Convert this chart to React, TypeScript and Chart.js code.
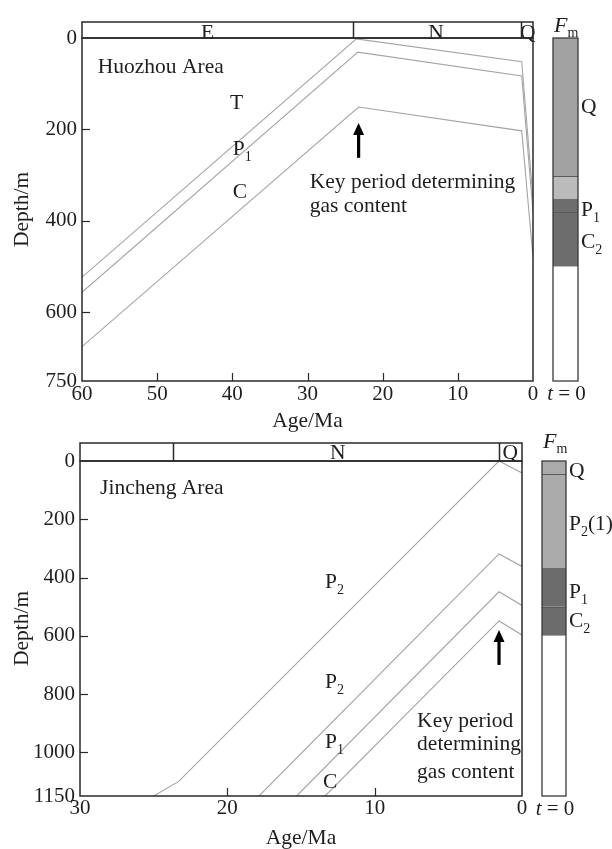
import React, { useEffect, useRef } from 'react';
import { Chart, registerables } from 'chart.js';

Chart.register(...registerables);

const SERIF = '"Liberation Serif", "Times New Roman", Times, serif';
const INK = '#1e1e1e';
const LINE_GREY = '#a4a4a4';
const TICK_SIZE = 21;
const TITLE_SIZE = 21.5;
const NOTE_SIZE = 21.5;

// ---------------- Top panel: Huozhou Area ----------------
const huoAgeTicks = [60, 50, 40, 30, 20, 10, 0];
const huoDepthTicks = [0, 200, 400, 600, 750];

const huoT_ages = [60, 23.5, 1.5, 0];
const huoT_depths = [523, 2, 52, 352];
const huoP1_ages = [60, 23.3, 1.5, 0];
const huoP1_depths = [556, 31, 83, 381];
const huoC_ages = [60, 23.2, 1.5, 0];
const huoC_depths = [675, 151, 203, 480];

const huoPeriodBounds = [60, 24, 1.6, 0];
const huoPeriodNames = ['E', 'N', 'Q'];
const huoPeriodLabelAges = [43.3, 12.9, 0.7];

const huoColumnBounds = [0, 302, 352, 381, 500, 750];
const huoColumnFills = ['#a2a2a2', '#bbbbbb', '#6d6d6d', '#6d6d6d', '#ffffff'];
const huoColumnLineDepths = [302, 381];
const huoColumnLabels = ['Q', 'P_1', 'C_2'];
const huoColumnLabelDepths = [164, 390, 459];

const huoNoteTexts = ['Huozhou Area', 'T', 'P_1', 'C', 'Key period determining', 'gas content'];
const huoNoteAges = [57.9, 40.3, 39.95, 39.95, 29.7, 29.7];
const huoNoteDepths = [76, 155, 256, 350, 328, 380];
const huoArrowAge = 23.2;
const huoArrowDepths = [262, 186]; // tail, tip

// ---------------- Bottom panel: Jincheng Area ----------------
const jinAgeTicks = [30, 20, 10, 0];
const jinDepthTicks = [0, 200, 400, 600, 800, 1000, 1150];

const jinL1_ages = [25.0, 23.3, 1.56, 0];
const jinL1_depths = [1150, 1100, 0, 41];
const jinL2_ages = [17.85, 1.56, 0];
const jinL2_depths = [1150, 319, 362];
const jinL3_ages = [15.3, 1.56, 0];
const jinL3_depths = [1150, 449, 496];
const jinL4_ages = [13.37, 1.56, 0];
const jinL4_depths = [1150, 549, 597];

const jinPeriodBounds = [30, 23.7, 1.56, 0];
const jinPeriodNames = ['', 'N', 'Q'];
const jinPeriodLabelAges = [26.9, 12.5, 0.8];

const jinColumnBounds = [0, 45, 367, 500, 600, 1150];
const jinColumnFills = ['#ababab', '#ababab', '#6c6c6c', '#6c6c6c', '#ffffff'];
const jinColumnLineDepths = [45, 500];
const jinColumnLabels = ['Q', 'P_2(1)', 'P_1', 'C_2'];
const jinColumnLabelDepths = [55, 237, 470, 570];

const jinNoteTexts = ['Jincheng Area', 'P_2', 'P_2', 'P_1', 'C', 'Key period', 'determining', 'gas content'];
const jinNoteAges = [28.64, 13.37, 13.37, 13.37, 13.5, 7.12, 7.12, 7.12];
const jinNoteDepths = [113, 436, 779, 985, 1122, 912, 991, 1087];
const jinArrowAge = 1.56;
const jinArrowDepths = [700, 580];

// ---------------- panel definitions ----------------
const panels = [
  {
    id: 'huo',
    top: 0,
    canvasH: 440,
    padTop: 38,
    padRight: 79,
    yWidth: 82,
    xHeight: 59,
    xTickPad: 1,
    xTitlePad: 6,
    headerH: 16,
    headerBaseline: 1,
    colOffset: 20,
    colWidth: 25,
    fmBaseline: -6,
    ageMax: 60,
    depthMax: 750,
    ageTicks: huoAgeTicks,
    depthTicks: huoDepthTicks,
    series: [
      { ages: huoT_ages, depths: huoT_depths },
      { ages: huoP1_ages, depths: huoP1_depths },
      { ages: huoC_ages, depths: huoC_depths },
    ],
    periodBounds: huoPeriodBounds,
    periodNames: huoPeriodNames,
    periodLabelAges: huoPeriodLabelAges,
    colBounds: huoColumnBounds,
    colFills: huoColumnFills,
    colLines: huoColumnLineDepths,
    colLabels: huoColumnLabels,
    colLabelDepths: huoColumnLabelDepths,
    notes: huoNoteTexts,
    noteAges: huoNoteAges,
    noteDepths: huoNoteDepths,
    arrowAge: huoArrowAge,
    arrowDepths: huoArrowDepths,
  },
  {
    id: 'jin',
    top: 420,
    canvasH: 431,
    padTop: 41,
    padRight: 90,
    yWidth: 80,
    xHeight: 55,
    xTickPad: 0,
    xTitlePad: 0,
    headerH: 18,
    headerBaseline: -2,
    colOffset: 20,
    colWidth: 24,
    fmBaseline: -13,
    ageMax: 30,
    depthMax: 1150,
    ageTicks: jinAgeTicks,
    depthTicks: jinDepthTicks,
    series: [
      { ages: jinL1_ages, depths: jinL1_depths },
      { ages: jinL2_ages, depths: jinL2_depths },
      { ages: jinL3_ages, depths: jinL3_depths },
      { ages: jinL4_ages, depths: jinL4_depths },
    ],
    periodBounds: jinPeriodBounds,
    periodNames: jinPeriodNames,
    periodLabelAges: jinPeriodLabelAges,
    colBounds: jinColumnBounds,
    colFills: jinColumnFills,
    colLines: jinColumnLineDepths,
    colLabels: jinColumnLabels,
    colLabelDepths: jinColumnLabelDepths,
    notes: jinNoteTexts,
    noteAges: jinNoteAges,
    noteDepths: jinNoteDepths,
    arrowAge: jinArrowAge,
    arrowDepths: jinArrowDepths,
  },
];

// draw text where "_x" means subscript x
function drawRich(ctx: CanvasRenderingContext2D, x: number, y: number, text: string, size: number) {
  const runs: { t: string; sub: boolean }[] = [];
  for (let i = 0; i < text.length; i++) {
    if (text[i] === '_' && i + 1 < text.length) {
      runs.push({ t: text[i + 1], sub: true });
      i++;
    } else {
      const last = runs[runs.length - 1];
      if (last && !last.sub) last.t += text[i];
      else runs.push({ t: text[i], sub: false });
    }
  }
  let cx = x;
  ctx.textAlign = 'left';
  ctx.textBaseline = 'alphabetic';
  for (const r of runs) {
    if (r.sub) {
      ctx.font = `${Math.round(size * 0.66)}px ${SERIF}`;
      ctx.fillText(r.t, cx, y + size * 0.27);
    } else {
      ctx.font = `${size}px ${SERIF}`;
      ctx.fillText(r.t, cx, y);
    }
    cx += ctx.measureText(r.t).width;
  }
}

function makePlugin(p: any) {
  return {
    id: 'panelDecor_' + p.id,
    afterDraw(chart: any) {
      const { ctx, chartArea: ca } = chart;
      const xs = chart.scales.x;
      const ys = chart.scales.y;
      ctx.save();
      ctx.fillStyle = INK;
      ctx.strokeStyle = '#2a2a2a';

      // period header labels
      ctx.font = `${NOTE_SIZE}px ${SERIF}`;
      ctx.textAlign = 'center';
      ctx.textBaseline = 'alphabetic';
      p.periodNames.forEach((n: string, i: number) => {
        if (!n) return;
        ctx.fillText(n, xs.getPixelForValue(p.periodLabelAges[i]), ca.top + p.headerBaseline);
      });
      // header box
      ctx.lineWidth = 1.5;
      ctx.strokeRect(ca.left, ca.top - p.headerH, ca.right - ca.left, p.headerH);
      for (let i = 1; i < p.periodBounds.length - 1; i++) {
        const px = Math.round(xs.getPixelForValue(p.periodBounds[i])) + 0.5;
        ctx.beginPath();
        ctx.moveTo(px, ca.top - p.headerH);
        ctx.lineTo(px, ca.top);
        ctx.stroke();
      }

      // frame
      ctx.strokeRect(ca.left, ca.top, ca.right - ca.left, ca.bottom - ca.top);

      // inward tick marks
      ctx.lineWidth = 1.2;
      p.ageTicks.forEach((v: number) => {
        if (v === 0 || v === p.ageMax) return;
        const px = Math.round(xs.getPixelForValue(v)) + 0.5;
        ctx.beginPath();
        ctx.moveTo(px, ca.bottom);
        ctx.lineTo(px, ca.bottom - 8);
        ctx.stroke();
      });
      p.depthTicks.forEach((v: number) => {
        if (v === 0 || v === p.depthMax) return;
        const py = Math.round(ys.getPixelForValue(v)) + 0.5;
        ctx.beginPath();
        ctx.moveTo(ca.left, py);
        ctx.lineTo(ca.left + 8, py);
        ctx.stroke();
      });

      // stratigraphic column (F_m at t = 0)
      const colL = ca.right + p.colOffset;
      const colW = p.colWidth;
      for (let i = 0; i < p.colFills.length; i++) {
        const y0 = ys.getPixelForValue(p.colBounds[i]);
        const y1 = ys.getPixelForValue(p.colBounds[i + 1]);
        ctx.fillStyle = p.colFills[i];
        ctx.fillRect(colL, y0, colW, y1 - y0);
      }
      ctx.strokeStyle = '#5a5a5a';
      ctx.lineWidth = 1;
      p.colLines.forEach((d: number) => {
        const py = Math.round(ys.getPixelForValue(d)) + 0.5;
        ctx.beginPath();
        ctx.moveTo(colL, py);
        ctx.lineTo(colL + colW, py);
        ctx.stroke();
      });
      ctx.strokeStyle = '#3a3a3a';
      ctx.lineWidth = 1.3;
      ctx.strokeRect(colL, ca.top, colW, ca.bottom - ca.top);

      ctx.fillStyle = INK;
      p.colLabels.forEach((t: string, i: number) => {
        drawRich(ctx, colL + colW + 3, ys.getPixelForValue(p.colLabelDepths[i]), t, NOTE_SIZE);
      });

      // F_m heading
      ctx.textAlign = 'left';
      ctx.textBaseline = 'alphabetic';
      ctx.font = `italic 22px ${SERIF}`;
      ctx.fillText('F', colL + 1, ca.top + p.fmBaseline);
      const fw = ctx.measureText('F').width;
      ctx.font = `14px ${SERIF}`;
      ctx.fillText('m', colL + 1 + fw, ca.top + p.fmBaseline + 5);

      // t = 0 footer
      ctx.font = `italic ${TICK_SIZE}px ${SERIF}`;
      const tw = ctx.measureText('t').width;
      ctx.font = `${TICK_SIZE}px ${SERIF}`;
      const rw = ctx.measureText(' = 0').width;
      const startX = colL + colW / 2 + 1 - (tw + rw) / 2;
      ctx.font = `italic ${TICK_SIZE}px ${SERIF}`;
      ctx.fillText('t', startX, ca.bottom + 19);
      ctx.font = `${TICK_SIZE}px ${SERIF}`;
      ctx.fillText(' = 0', startX + tw, ca.bottom + 19);

      // annotations
      p.notes.forEach((t: string, i: number) => {
        drawRich(ctx, xs.getPixelForValue(p.noteAges[i]), ys.getPixelForValue(p.noteDepths[i]), t, NOTE_SIZE);
      });

      // arrow
      const ax = xs.getPixelForValue(p.arrowAge);
      const tail = ys.getPixelForValue(p.arrowDepths[0]);
      const tip = ys.getPixelForValue(p.arrowDepths[1]);
      ctx.strokeStyle = '#000';
      ctx.fillStyle = '#000';
      ctx.lineWidth = 3.2;
      ctx.beginPath();
      ctx.moveTo(ax, tail);
      ctx.lineTo(ax, tip + 10);
      ctx.stroke();
      ctx.beginPath();
      ctx.moveTo(ax, tip);
      ctx.lineTo(ax - 5.5, tip + 12);
      ctx.lineTo(ax + 5.5, tip + 12);
      ctx.closePath();
      ctx.fill();

      ctx.restore();
    },
  };
}

function buildConfig(p: any): any {
  const tickFont = { family: SERIF, size: TICK_SIZE };
  const titleFont = { family: SERIF, size: TITLE_SIZE };
  return {
    type: 'line',
    data: {
      datasets: p.series.map((s: any) => ({
        data: s.ages.map((a: number, i: number) => ({ x: a, y: s.depths[i] })),
        borderColor: LINE_GREY,
        borderWidth: 1.1,
        pointRadius: 0,
        fill: false,
        tension: 0,
      })),
    },
    options: {
      responsive: false,
      animation: false,
      devicePixelRatio: 1,
      events: [],
      layout: { padding: { left: 0, top: p.padTop, right: p.padRight, bottom: 0 } },
      plugins: {
        legend: { display: false },
        tooltip: { enabled: false },
        title: { display: false },
      },
      scales: {
        x: {
          type: 'linear',
          position: 'bottom',
          reverse: true,
          min: 0,
          max: p.ageMax,
          afterFit: (s: any) => {
            s.height = p.xHeight;
          },
          afterBuildTicks: (s: any) => {
            s.ticks = p.ageTicks.map((v: number) => ({ value: v }));
          },
          grid: { display: false, drawTicks: false },
          border: { display: false },
          ticks: {
            font: tickFont,
            color: INK,
            padding: p.xTickPad,
            maxRotation: 0,
            autoSkip: false,
            callback: (v: any) => String(v),
          },
          title: {
            display: true,
            text: 'Age/Ma',
            font: titleFont,
            color: INK,
            padding: { top: 0, bottom: p.xTitlePad },
          },
        },
        y: {
          type: 'linear',
          position: 'left',
          reverse: true,
          min: 0,
          max: p.depthMax,
          afterFit: (s: any) => {
            s.width = p.yWidth;
          },
          afterBuildTicks: (s: any) => {
            s.ticks = p.depthTicks.map((v: number) => ({ value: v }));
          },
          grid: { display: false, drawTicks: false },
          border: { display: false },
          ticks: {
            font: tickFont,
            color: INK,
            padding: 5,
            autoSkip: false,
            callback: (v: any) => String(v),
          },
          title: {
            display: true,
            text: 'Depth/m',
            font: titleFont,
            color: INK,
            padding: { top: 9, bottom: 0 },
          },
        },
      },
    },
    plugins: [makePlugin(p)],
  };
}

function Panel({ p }: { p: any }) {
  const ref = useRef<HTMLCanvasElement>(null);
  useEffect(() => {
    if (!ref.current) return;
    const chart = new Chart(ref.current, buildConfig(p));
    return () => chart.destroy();
  }, [p]);
  return (
    <canvas
      ref={ref}
      width={612}
      height={p.canvasH}
      style={{ position: 'absolute', left: 0, top: p.top, width: 612, height: p.canvasH }}
    />
  );
}

export default function App() {
  return (
    <div
      style={{
        position: 'absolute',
        left: 0,
        top: 0,
        width: 612,
        height: 849,
        overflow: 'hidden',
        background: '#ffffff',
      }}
    >
      {panels.map((p) => (
        <Panel key={p.id} p={p} />
      ))}
    </div>
  );
}
